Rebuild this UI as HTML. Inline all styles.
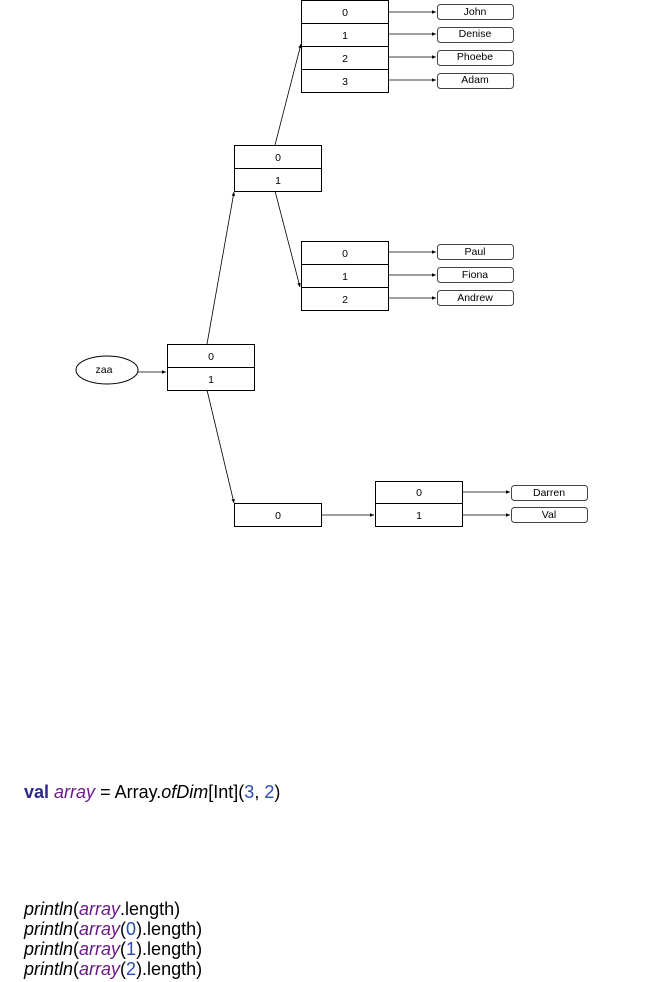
<!DOCTYPE html>
<html><head><meta charset="utf-8"><style>
body{margin:0;background:#fff;width:663px;height:982px;overflow:hidden;font-family:"Liberation Sans",sans-serif}
.c{position:absolute;left:24px;font-size:18px;color:#000;white-space:pre}
.k{color:#2c2a86;font-weight:bold}.v{color:#6a1a86;font-style:italic}.n{color:#2a4ab0}.i{font-style:italic}
</style></head><body>
<svg width="663" height="982" style="position:absolute;left:0;top:0" font-family="Liberation Sans, sans-serif" font-size="10.5">
<defs><marker id="a" markerWidth="6" markerHeight="6" refX="5" refY="3" orient="auto"><path d="M0,0.8 L5,3 L0,5.2z" fill="#000"/></marker></defs>
<g fill="#fff" stroke="#000" stroke-width="1">
<rect x="301.5" y="0.5" width="87" height="92"/><line x1="301" y1="23.5" x2="388" y2="23.5"/><line x1="301" y1="46.5" x2="388" y2="46.5"/><line x1="301" y1="69.5" x2="388" y2="69.5"/>
<rect x="234.5" y="145.5" width="87" height="46"/><line x1="234" y1="168.5" x2="321" y2="168.5"/>
<rect x="301.5" y="241.5" width="87" height="69"/><line x1="301" y1="264.5" x2="388" y2="264.5"/><line x1="301" y1="287.5" x2="388" y2="287.5"/>
<rect x="167.5" y="344.5" width="87" height="46"/><line x1="167" y1="367.5" x2="254" y2="367.5"/>
<rect x="234.5" y="503.5" width="87" height="23"/>
<rect x="375.5" y="481.5" width="87" height="45"/><line x1="375" y1="503.5" x2="462" y2="503.5"/>
<ellipse cx="107" cy="370" rx="31" ry="14"/>
<g stroke="#444"><rect x="437.5" y="4.5" width="76" height="15" rx="3"/><rect x="437.5" y="27.5" width="76" height="15" rx="3"/><rect x="437.5" y="50.5" width="76" height="15" rx="3"/><rect x="437.5" y="73.5" width="76" height="15" rx="3"/>
<rect x="437.5" y="244.5" width="76" height="15" rx="3"/><rect x="437.5" y="267.5" width="76" height="15" rx="3"/><rect x="437.5" y="290.5" width="76" height="15" rx="3"/>
<rect x="511.5" y="485.5" width="76" height="15" rx="3"/><rect x="511.5" y="507.5" width="76" height="15" rx="3"/></g>
</g>
<g stroke="#000" stroke-width="0.8" fill="none" marker-end="url(#a)">
<line x1="388" y1="12" x2="436" y2="12"/><line x1="388" y1="34" x2="436" y2="34"/><line x1="388" y1="57" x2="436" y2="57"/><line x1="388" y1="80" x2="436" y2="80"/>
<line x1="388" y1="252" x2="436" y2="252"/><line x1="388" y1="275" x2="436" y2="275"/><line x1="388" y1="298" x2="436" y2="298"/>
<line x1="462" y1="492" x2="510" y2="492"/><line x1="462" y1="515" x2="510" y2="515"/>
<line x1="138" y1="372" x2="166" y2="372"/><line x1="321" y1="515" x2="374" y2="515"/>
<line x1="207" y1="344" x2="234" y2="192"/><line x1="275" y1="145" x2="301" y2="44"/>
<line x1="275" y1="191" x2="300" y2="287"/><line x1="207" y1="390" x2="234" y2="503"/>
</g>
<g text-anchor="middle" fill="#000">
<text x="345" y="16">0</text><text x="345" y="39">1</text><text x="345" y="62">2</text><text x="345" y="85">3</text>
<text x="278" y="161">0</text><text x="278" y="184">1</text>
<text x="345" y="257">0</text><text x="345" y="280">1</text><text x="345" y="303">2</text>
<text x="211" y="360">0</text><text x="211" y="383">1</text>
<text x="278" y="519">0</text><text x="419" y="496">0</text><text x="419" y="519">1</text>
<text x="104" y="373">zaa</text>
<text x="475" y="15">John</text><text x="475" y="37">Denise</text><text x="475" y="60">Phoebe</text><text x="475" y="83">Adam</text>
<text x="475" y="255">Paul</text><text x="475" y="278">Fiona</text><text x="475" y="301">Andrew</text>
<text x="549" y="496">Darren</text><text x="549" y="518">Val</text>
</g>
</svg>
<div class="c" style="top:782px"><span class="k">val</span> <span class="v">array</span> = Array.<span class="i">ofDim</span>[Int](<span class="n">3</span>, <span class="n">2</span>)</div>
<div class="c" style="top:899px;line-height:20px"><span class="i">println</span>(<span class="v">array</span>.length)
<span class="i">println</span>(<span class="v">array</span>(<span class="n">0</span>).length)
<span class="i">println</span>(<span class="v">array</span>(<span class="n">1</span>).length)
<span class="i">println</span>(<span class="v">array</span>(<span class="n">2</span>).length)</div>
</body></html>
